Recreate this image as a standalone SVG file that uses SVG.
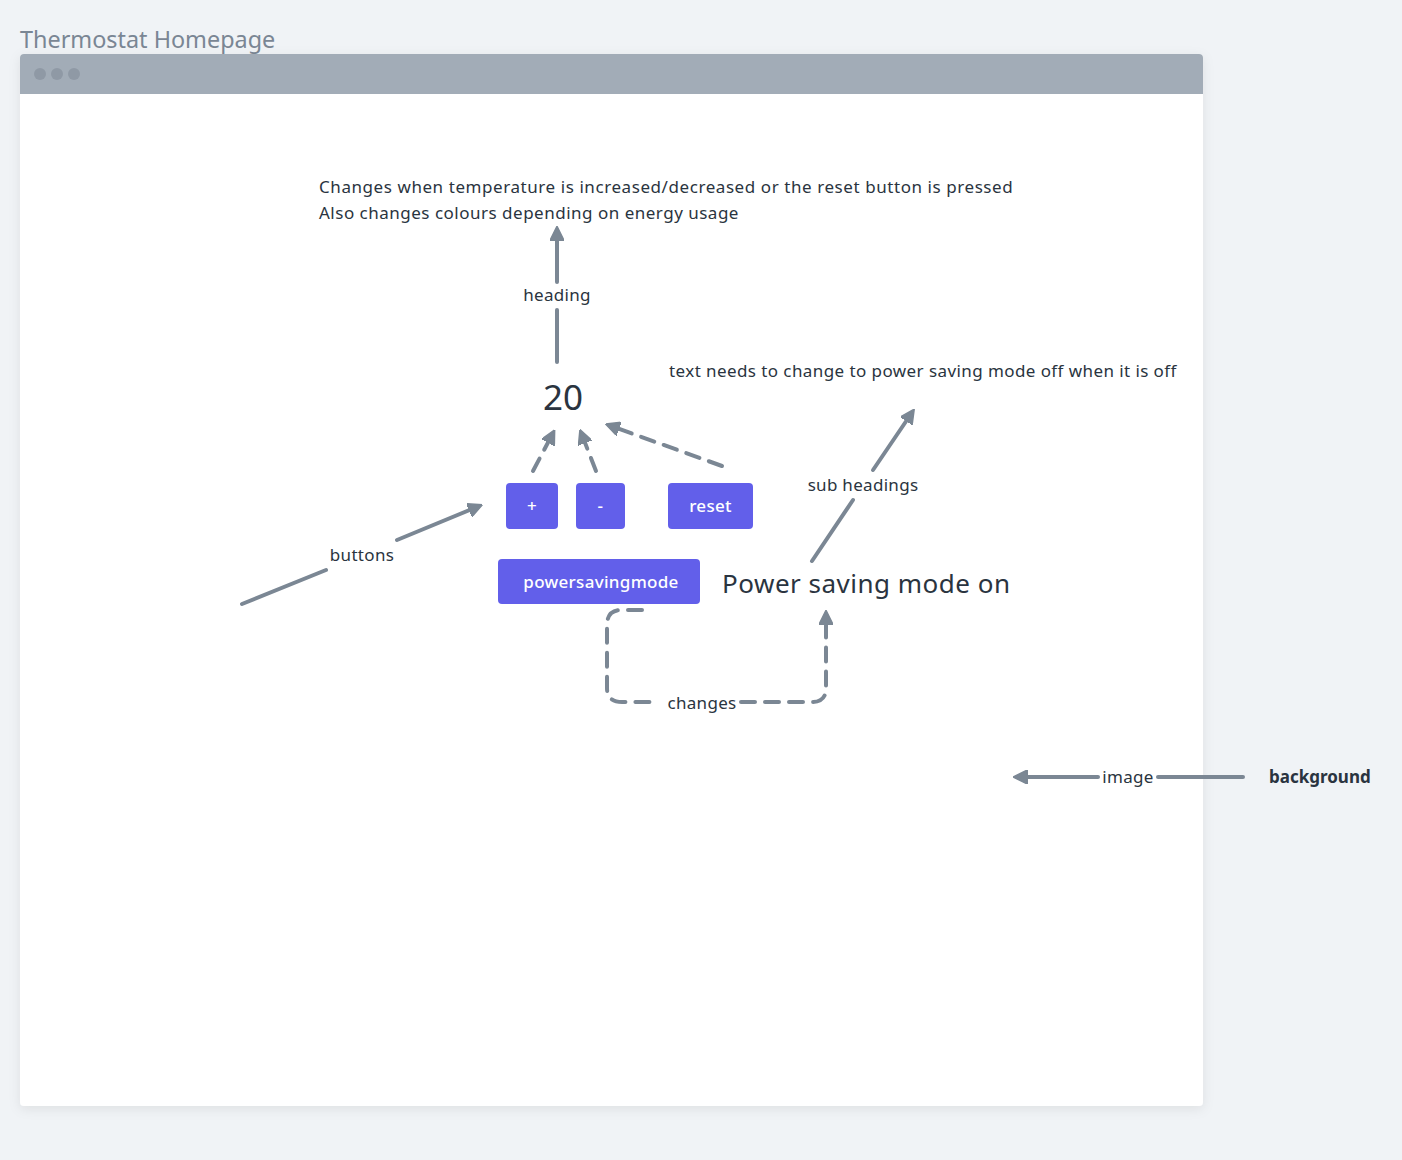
<svg xmlns="http://www.w3.org/2000/svg" width="1402" height="1160" viewBox="0 0 1402 1160">
<defs>
<style>
.t{font-family:"Noto Sans","Liberation Sans",sans-serif;fill:#2a3440}
.lbl{font-size:17px;letter-spacing:0.3px}
.btn{fill:#625fea}
.bt{font-family:"Noto Sans","Liberation Sans",sans-serif;fill:#ffffff;font-size:17px;font-weight:500;text-anchor:middle;letter-spacing:0.3px}
.c{fill:none;stroke:#7b8794;stroke-width:4;stroke-linecap:round;stroke-linejoin:round}
.d{stroke-dasharray:14 10}
</style>
<marker id="ah" viewBox="0 0 10 10" refX="6" refY="5" markerWidth="3.6" markerHeight="3.6" orient="auto" markerUnits="strokeWidth">
<path d="M0,0 L10,5 L0,10 Z" fill="#7b8794" stroke="#7b8794" stroke-width="1" stroke-linejoin="round"/>
</marker>
<filter id="sh" x="-5%" y="-5%" width="110%" height="110%">
<feDropShadow dx="0" dy="3" stdDeviation="6" flood-color="#000" flood-opacity="0.08"/>
</filter>
</defs>
<rect width="1402" height="1160" fill="#f0f3f6"/>
<text class="t" x="20" y="48" style="font-size:23.4px;fill:#7a8694">Thermostat Homepage</text>
<g id="window">
<rect x="20" y="54" width="1183" height="1052" rx="4" fill="#ffffff" filter="url(#sh)"/>
<path d="M24,54 H1199 A4,4 0 0 1 1203,58 V94 H20 V58 A4,4 0 0 1 24,54 Z" fill="#a2acb7"/>
<circle cx="40" cy="74" r="6" fill="#8f99a5"/>
<circle cx="57" cy="74" r="6" fill="#8f99a5"/>
<circle cx="74" cy="74" r="6" fill="#8f99a5"/>
</g>
<g id="note-heading">
<text class="t lbl" x="319" y="193" style="letter-spacing:0.57px">Changes when temperature is increased/decreased or the reset button is pressed</text>
<text class="t lbl" x="319" y="219" style="letter-spacing:0.5px">Also changes colours depending on energy usage</text>
</g>
<g id="note-subheading">
<text class="t lbl" x="669" y="377" style="letter-spacing:0.42px">text needs to change to power saving mode off when it is off</text>
</g>
<g id="temp">
<text class="t" x="563" y="410" style="font-size:35px" text-anchor="middle">20</text>
</g>
<g id="btn-plus">
<rect class="btn" x="506" y="483" width="52" height="46" rx="4"/>
<text class="bt" x="532" y="512">+</text>
</g>
<g id="btn-minus">
<rect class="btn" x="576" y="483" width="49" height="46" rx="4"/>
<text class="bt" x="600.5" y="512">-</text>
</g>
<g id="btn-reset">
<rect class="btn" x="668" y="483" width="85" height="46" rx="4"/>
<text class="bt" x="710.5" y="512">reset</text>
</g>
<g id="btn-powersaving">
<rect class="btn" x="498" y="559" width="202" height="45" rx="4"/>
<text class="bt" x="601" y="588">powersavingmode</text>
</g>
<g id="powersaving-text">
<text class="t" x="722" y="593" style="font-size:26px;letter-spacing:0.5px">Power saving mode on</text>
</g>
<g id="background-label">
<text class="t" x="1269" y="783" style="font-size:17px;font-weight:bold">background</text>
</g>
<g id="connectors">
<path class="c" d="M557,362 V310"/>
<path class="c" d="M557,282 V232" marker-end="url(#ah)"/>
<text class="t lbl" x="557" y="301" text-anchor="middle">heading</text>
<path class="c d" d="M533,471 L552,435" marker-end="url(#ah)"/>
<path class="c d" d="M596,471 L582,435" marker-end="url(#ah)"/>
<path class="c d" d="M722,466 L611,426" marker-end="url(#ah)"/>
<path class="c" d="M242,604 L326,570"/>
<path class="c" d="M397,540 L477,507" marker-end="url(#ah)"/>
<text class="t lbl" x="362" y="561" text-anchor="middle">buttons</text>
<path class="c" d="M812,561 L853,500"/>
<path class="c" d="M873,470 L911,414" marker-end="url(#ah)"/>
<text class="t lbl" x="863" y="491" text-anchor="middle">sub headings</text>
<path class="c d" d="M642,610 H622 Q607,610 607,625 V688 Q607,702 622,702 H656"/>
<path class="c d" d="M741,702 H812 Q826,702 826,688 V616" marker-end="url(#ah)"/>
<text class="t lbl" x="702" y="709" text-anchor="middle">changes</text>
<path class="c" d="M1243,777 H1158"/>
<path class="c" d="M1098,777 H1019" marker-end="url(#ah)"/>
<text class="t lbl" x="1128" y="783" text-anchor="middle">image</text>
</g>
</svg>
